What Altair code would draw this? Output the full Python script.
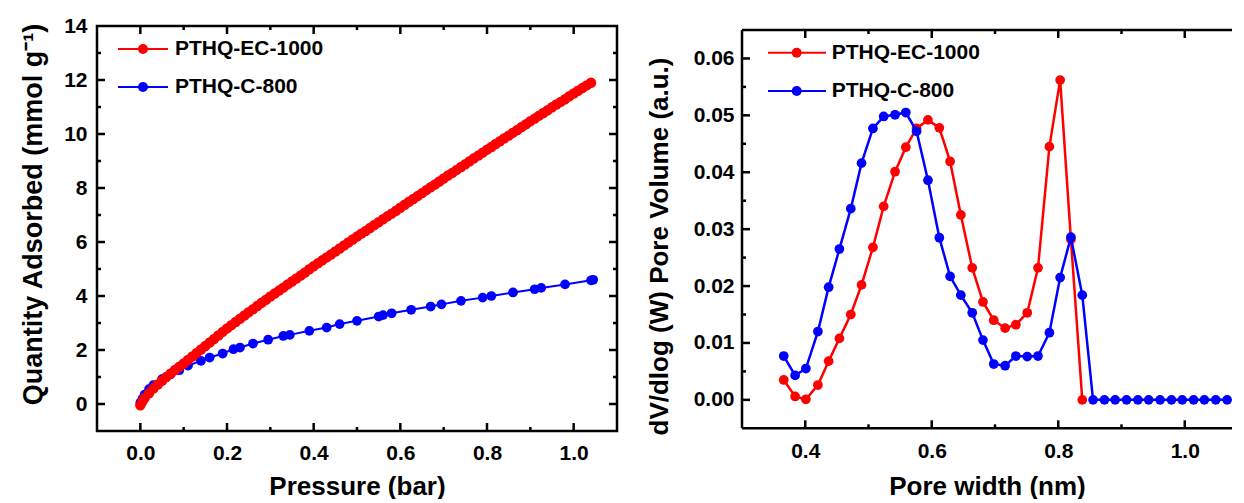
import altair as alt
import pandas as pd

FONT = "Liberation Sans, Arial, sans-serif"
RED = "#ff0000"
BLUE = "#0000ff"
SERIES = ["PTHQ-EC-1000", "PTHQ-C-800"]

# ---------------- Left panel: adsorption isotherm ----------------
p_red = [0.000, 0.005, 0.010, 0.020, 0.030, 0.040, 0.050, 0.060, 0.070, 0.080, 0.090,
         0.100, 0.110, 0.120, 0.130, 0.140, 0.150, 0.160, 0.170, 0.180, 0.190,
         0.200, 0.210, 0.220, 0.230, 0.240, 0.250, 0.260, 0.270, 0.280, 0.290,
         0.300, 0.310, 0.320, 0.330, 0.340, 0.350, 0.360, 0.370, 0.380, 0.390,
         0.400, 0.410, 0.420, 0.430, 0.440, 0.450, 0.460, 0.470, 0.480, 0.490,
         0.500, 0.510, 0.520, 0.530, 0.540, 0.550, 0.560, 0.570, 0.580, 0.590,
         0.600, 0.610, 0.620, 0.630, 0.640, 0.650, 0.660, 0.670, 0.680, 0.690,
         0.700, 0.710, 0.720, 0.730, 0.740, 0.750, 0.760, 0.770, 0.780, 0.790,
         0.800, 0.810, 0.820, 0.830, 0.840, 0.850, 0.860, 0.870, 0.880, 0.890,
         0.900, 0.910, 0.920, 0.930, 0.940, 0.950, 0.960, 0.970, 0.980, 0.990,
         1.000, 1.010, 1.020, 1.030, 1.040]
q_red = [-0.05, 0.10, 0.22, 0.40, 0.57, 0.72, 0.86, 1.00, 1.13, 1.26, 1.38,
         1.50, 1.63, 1.76, 1.89, 2.02, 2.15, 2.28, 2.41, 2.54, 2.67,
         2.80, 2.92, 3.04, 3.16, 3.28, 3.40, 3.51, 3.63, 3.75, 3.86,
         3.98, 4.09, 4.20, 4.31, 4.43, 4.54, 4.65, 4.76, 4.87, 4.99,
         5.10, 5.21, 5.32, 5.43, 5.54, 5.65, 5.76, 5.87, 5.98, 6.09,
         6.20, 6.31, 6.41, 6.52, 6.63, 6.73, 6.84, 6.95, 7.05, 7.16,
         7.27, 7.38, 7.49, 7.59, 7.70, 7.81, 7.92, 8.03, 8.13, 8.24,
         8.35, 8.46, 8.56, 8.67, 8.78, 8.88, 8.99, 9.10, 9.20, 9.31,
         9.42, 9.52, 9.63, 9.73, 9.84, 9.94, 10.05, 10.15, 10.26, 10.36,
         10.47, 10.57, 10.68, 10.78, 10.88, 10.99, 11.09, 11.19, 11.29, 11.40,
         11.50, 11.60, 11.70, 11.80, 11.90]
p_blue = [0.0, 0.005, 0.01, 0.02, 0.03, 0.05, 0.07, 0.09, 0.11, 0.14, 0.16, 0.19,
          0.215, 0.23, 0.26, 0.295, 0.33, 0.345, 0.39, 0.43, 0.46, 0.50, 0.55, 0.56,
          0.58, 0.625, 0.67, 0.695, 0.74, 0.79, 0.81, 0.86, 0.91, 0.925, 0.98, 1.04, 1.045]
q_blue = [0.05, 0.20, 0.35, 0.55, 0.70, 0.92, 1.10, 1.25, 1.42, 1.60, 1.72, 1.87,
          2.03, 2.09, 2.24, 2.38, 2.52, 2.56, 2.71, 2.83, 2.96, 3.08, 3.24, 3.29,
          3.36, 3.49, 3.61, 3.69, 3.82, 3.94, 4.00, 4.13, 4.25, 4.30, 4.43, 4.58, 4.60]

l_x_major = [0.0, 0.2, 0.4, 0.6, 0.8, 1.0]
l_x_minor = [0.1, 0.3, 0.5, 0.7, 0.9]
l_y_major = [0, 2, 4, 6, 8, 10, 12]
l_y_minor = [1, 3, 5, 7, 9, 11, 13]
l_y_labels = [0, 2, 4, 6, 8, 10, 12, 14]

# ---------------- Right panel: pore size distribution ----------------
w_red = [0.366, 0.384, 0.401, 0.420, 0.437, 0.454, 0.472, 0.489, 0.507, 0.524,
         0.542, 0.559, 0.576, 0.594, 0.612, 0.629, 0.646, 0.664, 0.681, 0.698,
         0.716, 0.733, 0.751, 0.768, 0.786, 0.803, 0.820, 0.838]
v_red = [0.0035, 0.0006, 0.0001, 0.0026, 0.0068, 0.0108, 0.0150, 0.0202, 0.0268, 0.0340,
         0.0401, 0.0444, 0.0477, 0.0492, 0.0478, 0.0419, 0.0325, 0.0232, 0.0172, 0.0140,
         0.0126, 0.0132, 0.0153, 0.0232, 0.0445, 0.0562, 0.0282, 0.0]
w_blue = [0.366, 0.384, 0.401, 0.420, 0.437, 0.454, 0.472, 0.489, 0.507, 0.524,
          0.542, 0.559, 0.576, 0.594, 0.612, 0.629, 0.646, 0.664, 0.681, 0.698,
          0.716, 0.733, 0.751, 0.768, 0.786, 0.803, 0.820, 0.838, 0.855, 0.873,
          0.890, 0.908, 0.926, 0.943, 0.961, 0.979, 0.996, 1.014, 1.031, 1.049, 1.067]
v_blue = [0.0077, 0.0043, 0.0055, 0.0120, 0.0198, 0.0265, 0.0336, 0.0416, 0.0477, 0.0498,
          0.0501, 0.0505, 0.0472, 0.0386, 0.0285, 0.0217, 0.0184, 0.0153, 0.0105, 0.0063,
          0.0060, 0.0077, 0.0076, 0.0077, 0.0118, 0.0215, 0.0286, 0.0184, 0.0, 0.0,
          0.0, 0.0, 0.0, 0.0, 0.0, 0.0, 0.0, 0.0, 0.0, 0.0, 0.0]

r_x_major = [0.4, 0.6, 0.8, 1.0]
r_x_minor = [0.5, 0.7, 0.9]
r_y_major = [0.0, 0.01, 0.02, 0.03, 0.04, 0.05, 0.06]
r_y_minor = [0.005, 0.015, 0.025, 0.035, 0.045, 0.055]

# group sizes and frame placement (pixels inside each panel)
GH = 405
W1 = 520
F1_TOP, F1_BOT = 0, 405
W2 = 490
F2_TOP, F2_BOT = 4, 402.3


def rect_frame(W, top, bot):
    return [alt.Chart(pd.DataFrame({"s": [0]})).mark_rect(
        fillOpacity=0, stroke="black", strokeWidth=2.5
    ).encode(x=alt.value(0), x2=alt.value(W), y=alt.value(top), y2=alt.value(bot))]


def open_frame(W, top, bot):
    # right side of this panel runs off the page in the figure: no closing border
    b = alt.Chart(pd.DataFrame({"s": [0]})).mark_rule(color="black", strokeWidth=2.5)
    return [
        b.encode(x=alt.value(0), x2=alt.value(W), y=alt.value(top)),
        b.encode(x=alt.value(0), x2=alt.value(W), y=alt.value(bot)),
        b.encode(x=alt.value(0), y=alt.value(top), y2=alt.value(bot)),
    ]


def tick_layers(xs, ys, xax, yax, xmaj, xmin, ymaj, ymin, W, top, bot, right_ticks=True):
    layers = []
    for vals, L in ((xmaj, 8), (xmin, 4)):
        b = alt.Chart(pd.DataFrame({"x": vals})).mark_rule(color="black", strokeWidth=2.5)
        layers.append(b.encode(x=alt.X("x:Q", scale=xs, axis=xax), y=alt.value(bot), y2=alt.value(bot - L)))
        layers.append(b.encode(x=alt.X("x:Q", scale=xs, axis=xax), y=alt.value(top), y2=alt.value(top + L)))
    for vals, L in ((ymaj, 8), (ymin, 4)):
        b = alt.Chart(pd.DataFrame({"y": vals})).mark_rule(color="black", strokeWidth=2.5)
        layers.append(b.encode(y=alt.Y("y:Q", scale=ys, axis=yax), x=alt.value(0), x2=alt.value(L)))
        if right_ticks:
            layers.append(b.encode(y=alt.Y("y:Q", scale=ys, axis=yax), x=alt.value(W - L), x2=alt.value(W)))
    return layers


def series_layers(x, y, color, xs, ys, xaxis, yaxis, size, sw):
    d = pd.DataFrame({"x": x, "y": y})
    base = alt.Chart(d).encode(
        x=alt.X("x:Q", scale=xs, axis=xaxis),
        y=alt.Y("y:Q", scale=ys, axis=yaxis),
    )
    return [base.mark_line(color=color, strokeWidth=sw),
            base.mark_circle(color=color, size=size, opacity=1)]


def legend_layers(name, color, x0, x1, xc, xt, y):
    b = alt.Chart(pd.DataFrame({"s": [name]}))
    return [
        b.mark_rule(color=color, strokeWidth=2).encode(x=alt.value(x0), x2=alt.value(x1), y=alt.value(y)),
        b.mark_circle(color=color, size=100, opacity=1).encode(x=alt.value(xc), y=alt.value(y)),
        b.mark_text(align="left", baseline="middle", font=FONT, fontSize=21,
                    fontWeight="bold", color="black").encode(x=alt.value(xt), y=alt.value(y), text="s:N"),
    ]


def extent_rule(x0, x1, y):
    return alt.Chart(pd.DataFrame({"s": [0]})).mark_rule(strokeWidth=1, opacity=0, color="white").encode(
        x=alt.value(x0), x2=alt.value(x1), y=alt.value(y))


# Left panel
xs1 = alt.Scale(domain=[-0.1, 1.1], nice=False, zero=False)
ys1 = alt.Scale(domain=[-1, 14], nice=False, zero=False, range=[F1_BOT, F1_TOP])
ax_lx = alt.Axis(values=l_x_major, format=".1f", title="Pressure (bar)",
                 labelPadding=28.3, labelBaseline="alphabetic",
                 titleY=63, titleBaseline="alphabetic")
ax_ly = alt.Axis(values=l_y_labels, format="d", title="Quantity Adsorbed (mmol g⁻¹)",
                 labelPadding=10, titleX=-56, titleY=188, titleBaseline="alphabetic",
                 titleFontSize=27)

left_layers = (
    rect_frame(W1, F1_TOP, F1_BOT)
    + tick_layers(xs1, ys1, ax_lx, ax_ly, l_x_major, l_x_minor, l_y_major, l_y_minor, W1, F1_TOP, F1_BOT)
    + series_layers(p_blue, q_blue, BLUE, xs1, ys1, ax_lx, ax_ly, 95, 2)
    + series_layers(p_red, q_red, RED, xs1, ys1, ax_lx, ax_ly, 110, 2)
    + legend_layers(SERIES[0], RED, 21, 71, 46, 78, 23)
    + legend_layers(SERIES[1], BLUE, 21, 71, 46, 78, 61)
    + [extent_rule(-89, 525, -18)]
)
left = alt.layer(*left_layers).properties(width=W1, height=GH)

# Right panel
xs2 = alt.Scale(domain=[0.3, 1.0747], nice=False, zero=False)
ys2 = alt.Scale(domain=[-0.005, 0.065], nice=False, zero=False, range=[F2_BOT, F2_TOP])
ax_rx = alt.Axis(values=r_x_major, format=".1f", title="Pore width (nm)",
                 labelPadding=26.6, labelBaseline="alphabetic",
                 titleY=63, titleBaseline="alphabetic")
ax_ry = alt.Axis(values=r_y_major, format=".2f", title="dV/dlog (W) Pore Volume (a.u.)",
                 labelPadding=8, titleX=-75, titleY=220, titleBaseline="alphabetic")

right_layers = (
    open_frame(W2, F2_TOP, F2_BOT)
    + tick_layers(xs2, ys2, ax_rx, ax_ry, r_x_major, r_x_minor, r_y_major, r_y_minor,
                  W2, F2_TOP, F2_BOT, right_ticks=False)
    + series_layers(w_red, v_red, RED, xs2, ys2, ax_rx, ax_ry, 95, 2.5)
    + series_layers(w_blue, v_blue, BLUE, xs2, ys2, ax_rx, ax_ry, 95, 2.5)
    + legend_layers(SERIES[0], RED, 26, 84, 54.7, 89.7, 26.7)
    + legend_layers(SERIES[1], BLUE, 26, 84, 54.7, 89.7, 65)
    + [extent_rule(-100, W2, -18)]
)
right = alt.layer(*right_layers).properties(width=W2, height=GH)

chart = (
    alt.hconcat(left, right, spacing=20)
    .properties(padding={"left": 0, "top": 0, "right": 0, "bottom": 0})
    .configure_view(strokeWidth=0)
    .configure_axis(
        ticks=False, domain=False, grid=False,
        labelFont=FONT, labelFontSize=21, labelFontWeight="bold", labelColor="black",
        titleFont=FONT, titleFontSize=26, titleFontWeight="bold", titleColor="black",
    )
)

chart.save("out.html", embed_options={"renderer": "svg", "actions": False})
